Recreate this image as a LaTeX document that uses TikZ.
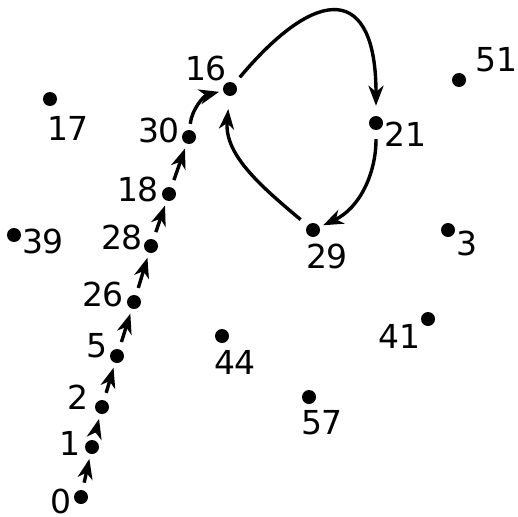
\documentclass[tikz,border=0pt]{standalone}
\usepackage{fontspec}
\setmainfont{DejaVu Sans}
\usetikzlibrary{arrows.meta}
\tikzset{
  dot/.style={circle, fill=black, inner sep=0pt, minimum size=14pt},
  num/.style={font=\fontsize{33}{38}\selectfont, inner sep=0pt},
  hop/.style={-{Stealth[length=20pt,width=15pt,inset=6pt]}, line width=3.4pt,
    shorten <=7.5pt, shorten >=5pt},
}
\begin{document}
\begin{tikzpicture}[x=1pt,y=1pt]
\useasboundingbox (0,0) rectangle (518,-516);

% =========================
% points
% =========================
\node[dot] (n0)  at (81,-497)  {};
\node[dot] (n1)  at (92,-447)  {};
\node[dot] (n2)  at (102,-407) {};
\node[dot] (n5)  at (117,-356) {};
\node[dot] (n26) at (134,-302) {};
\node[dot] (n28) at (151,-246) {};
\node[dot] (n18) at (169,-194) {};
\node[dot] (n30) at (189,-137) {};
\node[dot] (n16) at (230,-89)  {};
\node[dot] (n21) at (376,-123) {};
\node[dot] (n29) at (313,-230) {};
\node[dot] (n17) at (50,-99)   {};
\node[dot] (n51) at (459,-80)  {};
\node[dot] (n39) at (14,-235)  {};
\node[dot] (n3)  at (448,-230) {};
\node[dot] (n41) at (428,-319) {};
\node[dot] (n44) at (222,-336) {};
\node[dot] (n57) at (309,-397) {};

% =========================
% labels
% =========================
\node[num] (t0)  at (61,-501)  {0};
\node[num] (t1)  at (70,-443)  {1};
\node[num] (t2)  at (78,-397)  {2};
\node[num] (t5)  at (97,-346)  {5};
\node[num] (t26) at (103,-294) {26};
\node[num] (t28) at (122,-237) {28};
\node[num] (t18) at (138,-189) {18};
\node[num] (t30) at (159,-130) {30};
\node[num] (t16) at (206,-68)  {16};
\node[num] (t21) at (405,-134) {21};
\node[num] (t29) at (327,-256) {29};
\node[num] (t17) at (68,-128)  {17};
\node[num] (t51) at (496,-60)  {51};
\node[num] (t39) at (43,-241)  {39};
\node[num] (t3)  at (467,-243) {3};
\node[num] (t41) at (399,-336) {41};
\node[num] (t44) at (235,-362) {44};
\node[num] (t57) at (322,-423) {57};

% =========================
% route
% =========================
\foreach \a/\b in {n0/n1, n1/n2, n2/n5, n5/n26, n26/n28, n28/n18, n18/n30}
  \draw[hop] (\a) -- (\b);

\draw[hop, shorten <=6pt, shorten >=4pt] (n30) to[bend left=35] (n16);
\draw[hop, shorten <=8pt, shorten >=10pt] (n16) to[out=50,in=90,looseness=2.3] (n21);
\draw[hop, shorten <=9pt, shorten >=4pt] (n21) to[out=-90,in=25] (n29);
\draw[hop, shorten <=9pt, shorten >=13pt] (n29) to[out=140,in=-95] (n16);

\end{tikzpicture}
\end{document}
